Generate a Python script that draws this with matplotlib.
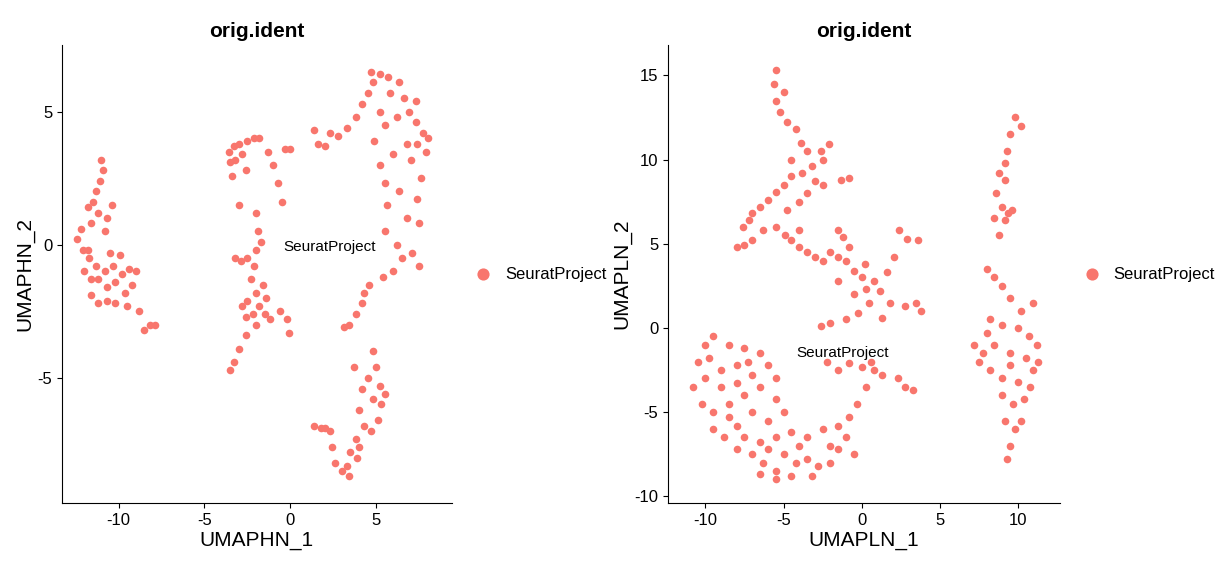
import numpy as np
import matplotlib
matplotlib.use("Agg")
import matplotlib.pyplot as plt

plt.rcParams['font.family'] = ['Liberation Sans', 'DejaVu Sans']

color = "#F8766D"
label = "SeuratProject"

left_pts = [(-11,3.2),(-10.9,2.8),(-11.1,2.4),(-11.3,2),(-11.5,1.6),(-11.8,1.4),(-11.2,1.2),(-11.6,0.8),(-12.2,0.6),(-12.4,0.2),(-12.1,-0.2),(-11.7,-0.5),(-11.3,-0.8),(-10.8,-1),(-10.3,-0.8),(-9.8,-1.1),(-9.4,-0.9),(-9,-1),(-9.2,-1.5),(-9.6,-1.8),(-10.2,-1.4),(-10.7,-1.6),(-11.2,-1.3),(-11.6,-1.9),(-11.2,-2.2),(-10.7,-2.1),(-10.2,-2.2),(-9.5,-2.3),(-8.8,-2.5),(-8.2,-3),(-7.9,-3),(-8.5,-3.2),(-12,-1),(-11.8,-0.2),(-10.5,-0.3),(-10.8,0.5),(-11.6,-1.3),(-9.9,-0.4),(-10.4,1.5),(-10.7,1.0),
(-3.6,3.5),(-3.3,3.7),(-3.0,3.8),(-2.5,3.9),(-2.1,4.0),(-1.8,4.0),(-3.5,3.1),(-3.2,3.2),(-2.8,3.4),(-3.4,2.6),(-1.3,3.5),(-1.0,3.0),(-0.7,2.3),(-0.5,1.6),(-0.3,3.6),(0,3.6),(-3.0,1.5),(-2.6,2.8),(-2.0,1.2),(-1.9,0.5),(-2.0,-0.2),(-2.1,-0.8),(-2.3,-1.3),(-2.0,-1.8),(-2.5,-2.1),(-1.8,-2.3),(-2.2,-2.6),(-2.6,-2.7),(-1.5,-2.6),(-1.2,-2.8),(-0.6,-2.5),(-0.2,-2.8),(-0.1,-3.3),(-2.0,-3.0),(-2.6,-3.4),(-3.0,-3.9),(-3.3,-4.4),(-3.5,-4.7),(-2.9,-0.6),(-3.2,-0.5),(-2.5,-0.5),(-1.6,-1.5),(-1.4,-2.0),(-2.8,-2.3),(-1.7,0.1),
(1.4,4.3),(1.6,3.8),(2.0,3.7),(2.3,4.2),(2.8,4.1),(3.3,4.4),(3.8,4.8),(4.2,5.3),(4.5,5.7),(4.8,6.1),(4.7,6.5),(5.2,6.4),(5.7,6.3),(6.3,6.1),(6.6,5.5),(6.9,5.0),(7.3,4.6),(7.7,4.2),(8.0,4.0),(7.9,3.5),(7.4,3.8),(5.8,5.7),(5.2,5.0),(5.5,4.5),(6.2,4.8),(4.9,3.9),(5.2,3.0),(6.0,3.4),(7.0,3.2),(7.6,2.5),(7.4,1.7),(6.3,2.0),(5.6,1.5),(6.8,1.0),(7.5,0.8),(5.5,0.5),(6.2,0.0),(7.1,-0.3),(7.5,-0.8),(6.0,-1.0),(5.4,-1.2),(7.3,5.4),(6.8,3.8),(5.5,2.3),(6.5,-0.5),(4.6,-1.5),(4.2,-2.2),(3.8,-2.6),(3.4,-3.0),(3.1,-3.1),(4.3,-1.8),
(4.8,-4.0),(5.0,-4.6),(5.2,-5.3),(5.3,-6.0),(5.1,-6.6),(4.8,-5.8),(4.5,-5.0),(4.2,-5.4),(4.0,-6.2),(4.3,-6.8),(3.8,-7.3),(3.5,-7.8),(3.3,-8.3),(3.4,-8.7),(3.0,-8.5),(2.6,-8.2),(2.4,-7.6),(2.3,-7.0),(1.8,-6.9),(1.4,-6.8),(2.0,-6.9),(4.7,-7.0),(4.0,-7.6),(3.7,-4.6),(5.5,-5.6),(3.9,-8.0)]

right_pts = [(-5.5,15.3),(-5.6,14.5),(-5.5,13.5),(-5.2,12.8),(-4.8,12.2),(-4.2,11.8),(-3.9,11.0),(-3.5,10.5),(-2.6,10.5),(-2.1,10.9),(-2.5,10.0),(-3.2,9.6),(-3.8,9.2),(-4.5,9.0),(-5.0,8.5),(-5.5,8.1),(-6.0,7.6),(-6.5,7.2),(-7.0,6.8),(-7.2,6.4),(-7.6,6.0),(-3.0,8.7),(-2.5,8.5),(-1.3,8.8),(-0.8,8.9),(-4.0,7.5),(-3.5,8.0),(-4.8,7.0),(-5.5,6.0),(-6.3,5.8),(-7.0,5.2),(-7.5,4.9),(-8.0,4.8),(-4.9,5.5),(-4.5,5.2),(-4.0,4.8),(-3.5,4.5),(-3.0,4.2),(-2.5,4.0),(-2.0,4.5),(-1.5,4.2),(-1.0,4.0),(-0.5,3.4),(-1.5,5.8),(-1.2,5.4),(-0.8,4.8),(0,3.0),(0.3,2.3),(0.8,2.8),(1.2,2.2),(1.6,3.3),(2.1,4.2),(2.4,5.8),(2.9,5.3),(3.6,5.2),(1.8,1.5),(2.8,1.3),(3.5,1.5),(3.8,1.0),(0.5,1.5),(-0.2,0.9),(-1.0,0.5),(-2.0,0.3),(-2.6,0.1),(-0.5,2.0),(0.2,3.8),(-1.5,2.8),(1.3,0.6),(-2.2,-2.0),(-1.5,-2.5),(-0.8,-2.1),(0,-2.3),(0.6,-2.0),(1.3,-2.8),(2.3,-3.0),(2.8,-3.5),(3.3,-3.7),(-4.0,5.8),(-4.5,10),(-5.0,14.0),
(-10.5,-2.0),(-10,-1.0),(-9.5,-0.5),(-8.5,-1.0),(-7.5,-1.2),(-6.5,-1.5),(-6.0,-2.2),(-5.5,-3.0),(-10.8,-3.5),(-10.0,-3.0),(-9.0,-2.5),(-8.0,-2.2),(-7.0,-2.8),(-6.5,-3.5),(-5.5,-4.2),(-5.0,-5.0),(-10.2,-4.5),(-9.5,-5.0),(-8.5,-4.5),(-7.5,-4.0),(-7.0,-5.0),(-6.0,-5.5),(-9.5,-6.0),(-8.8,-6.5),(-8.0,-5.8),(-7.5,-6.5),(-6.5,-6.8),(-5.5,-6.5),(-4.5,-6.2),(-3.5,-6.5),(-2.5,-6.0),(-1.5,-5.8),(-0.8,-5.3),(-0.3,-4.5),(0.3,-3.5),(0.8,-2.5),(-8.0,-7.2),(-7.0,-7.5),(-6.3,-8.0),(-5.5,-8.5),(-5.0,-7.5),(-4.2,-8.0),(-3.5,-7.8),(-2.8,-8.2),(-2.0,-8.0),(-1.5,-7.2),(-1.0,-6.5),(-5.5,-9.0),(-4.5,-8.8),(-3.2,-8.8),(-6.5,-8.7),(-0.5,-7.5),(-9.0,-3.5),(-8.0,-3.3),(-7.3,-2.0),(-4.0,-7.0),(-2.0,-7.0),(-6,-7.2),(-8.5,-5.3),(-9.8,-1.8),
(9.8,12.5),(10.2,12),(9.5,11.5),(9.3,10.5),(9.2,9.8),(8.8,9.2),(9.2,8.8),(8.6,8.0),(9.0,7.2),(9.4,6.8),(8.5,6.5),(9.2,6.4),(8.8,5.5),(9.6,7.0),
(8.0,3.5),(8.5,3.0),(9.0,2.5),(9.5,1.8),(10.2,1.0),(11.0,1.5),(8.2,0.5),(9.0,0.2),(10.0,0),(10.7,-0.5),(11.2,-1.0),(7.2,-1.0),(7.8,-1.5),(8.5,-1.0),(9.5,-1.5),(10.5,-1.8),(11.0,-2.5),(8.2,-2.5),(9.0,-3.0),(10.0,-3.2),(10.8,-3.5),(9.0,-4.0),(9.7,-4.5),(10.4,-4.2),(9.2,-5.5),(9.8,-6.0),(9.5,-7.0),(9.3,-7.8),(10.2,-5.5),(8.0,-0.3),(11.3,-2.0),(7.5,-2.0),(9.5,-2.2)]

panels = [
    dict(pts=left_pts, xlabel="UMAPHN_1", ylabel="UMAPHN_2", pos=[0.0507, 0.1097, 0.319, 0.8106],
         xlim=(-13.3, 9.4), ylim=(-9.7, 7.5), xt=[-10, -5, 0, 5], yt=[-5, 0, 5], lab=(2.3, -0.1)),
    dict(pts=right_pts, xlabel="UMAPLN_1", ylabel="UMAPLN_2", pos=[0.5466, 0.1097, 0.3208, 0.8106],
         xlim=(-12.4, 12.7), ylim=(-10.4, 16.8), xt=[-10, -5, 0, 5, 10], yt=[-10, -5, 0, 5, 10, 15], lab=(-1.2, -1.5)),
]

fig = plt.figure(figsize=(12.22, 5.65), dpi=100)
for p in panels:
    ax = fig.add_axes(p["pos"])
    arr = np.array(p["pts"])
    ax.scatter(arr[:, 0], arr[:, 1], s=30, color=color, linewidths=0, label=label)
    ax.set_xlim(*p["xlim"]); ax.set_ylim(*p["ylim"])
    ax.set_xticks(p["xt"]); ax.set_yticks(p["yt"])
    ax.set_xticklabels([str(v) for v in p["xt"]]); ax.set_yticklabels([str(v) for v in p["yt"]])
    for s in ["top", "right"]:
        ax.spines[s].set_visible(False)
    ax.tick_params(labelsize=12, colors="black")
    ax.set_xlabel(p["xlabel"], fontsize=15, labelpad=2)
    ax.set_ylabel(p["ylabel"], fontsize=15, labelpad=2)
    ax.set_title("orig.ident", fontsize=15, fontweight="bold")
    ax.text(p["lab"][0], p["lab"][1], label, fontsize=11, ha="center", va="center")
    ax.legend(loc="center left", bbox_to_anchor=(1.0, 0.5), frameon=False, fontsize=12,
              markerscale=1.6, handletextpad=0.3)

fig.savefig("out.png", dpi=100)
